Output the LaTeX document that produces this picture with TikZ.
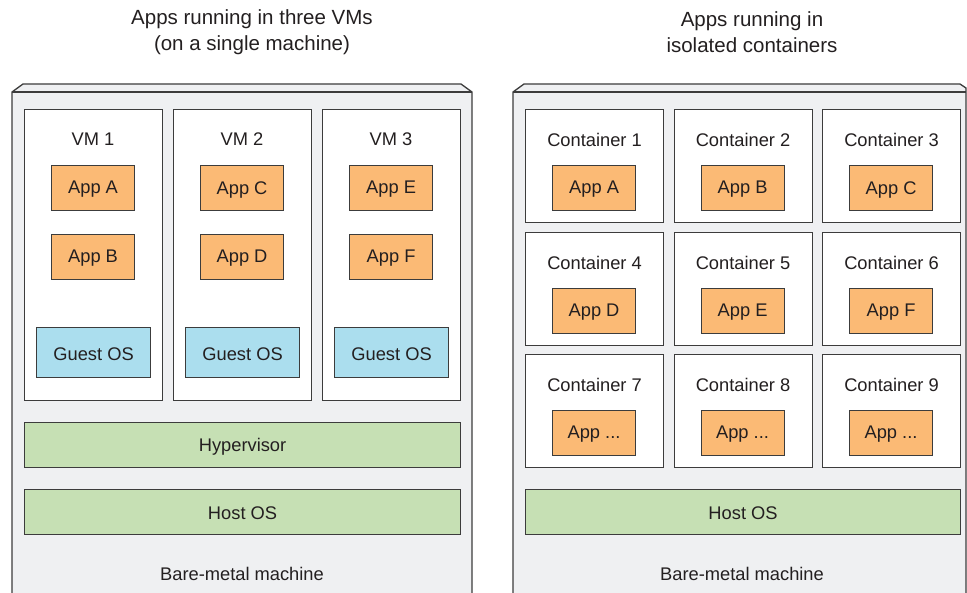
\documentclass[tikz,border=0pt]{standalone}
\usepackage{fontspec}
\setmainfont{Liberation Sans}
\definecolor{metal}{HTML}{EFF0F2}
\definecolor{appc}{HTML}{FBBA75}
\definecolor{osc}{HTML}{ABDEEE}
\definecolor{hostc}{HTML}{C6E0B4}
\definecolor{linec}{HTML}{3C3C3C}
\definecolor{txt}{HTML}{231F20}
\tikzset{
  base/.style={draw=linec, line width=1.1pt, anchor=north west, inner sep=0pt, text=txt, font=\fontsize{18.3}{20}\selectfont},
  vmbox/.style={base, fill=white, minimum width=138, minimum height=291},
  ctbox/.style={base, fill=white, minimum width=138, minimum height=113},
  appbox/.style={base, fill=appc, minimum width=83, minimum height=45},
  osbox/.style={base, fill=osc, minimum width=114, minimum height=50},
  greenbox/.style={base, fill=hostc, minimum width=436, minimum height=45},
  lbl/.style={text=txt, font=\fontsize{18.3}{20}\selectfont, inner sep=0pt, yshift=-1.5pt},
  title/.style={text=txt, font=\fontsize{20.5}{26}\selectfont, align=center, inner sep=0pt},
  metalframe/.style={draw=linec, line width=1.3pt, fill=metal, line join=round}
}
\begin{document}
\begin{tikzpicture}[x=1pt,y=-1pt]
\useasboundingbox (0,0) rectangle (967,593);
\begin{scope}
\clip (0,0) rectangle (967,593);
\filldraw[metalframe] (12,610) -- (12,92) -- (23,84) -- (461,84) -- (472,92) -- (472,610) -- cycle;
\draw[linec, line width=1.3pt] (12,92) -- (472,92);
\filldraw[metalframe] (513,610) -- (513,92) -- (524,84) -- (960,84) -- (966,88) -- (966,610) -- cycle;
\draw[linec, line width=1.3pt] (513,92) -- (966,92);
\end{scope}

% titles
\node[title] (t1) at (252,32) {Apps running in three VMs\\(on a single machine)};
\node[title] (t2) at (752,32) {Apps running in\\isolated containers};

% VMs
\node[vmbox] (vm1) at (24,109) {};
\node[vmbox] (vm2) at (173,109) {};
\node[vmbox] (vm3) at (322,109) {};
\node[lbl] (vm1l) at (93,138) {VM 1};
\node[lbl] (vm2l) at (242,138) {VM 2};
\node[lbl] (vm3l) at (391,138) {VM 3};
\node[appbox] (aA) at (51,165) {};  \node[lbl] at (aA.center) {App A};
\node[appbox] (aB) at (51,234) {};  \node[lbl] at (aB.center) {App B};
\node[appbox] (aC) at (200,165) {}; \node[lbl] at (aC.center) {App C};
\node[appbox] (aD) at (200,234) {}; \node[lbl] at (aD.center) {App D};
\node[appbox] (aE) at (349,165) {}; \node[lbl] at (aE.center) {App E};
\node[appbox] (aF) at (349,234) {}; \node[lbl] at (aF.center) {App F};
\node[osbox] (g1) at (36,327) {};  \node[lbl] at (g1.center) {Guest OS};
\node[osbox] (g2) at (185,327) {}; \node[lbl] at (g2.center) {Guest OS};
\node[osbox] (g3) at (334,327) {}; \node[lbl] at (g3.center) {Guest OS};
\node[greenbox] (hyp) at (24,422) {}; \node[lbl] at (hyp.center) {Hypervisor};
\node[greenbox] (host1) at (24,489) {}; \node[lbl] at (host1.center) {Host OS};
\node[lbl] (bm1) at (242,572) {Bare-metal machine};

% Containers
\foreach \r/\y in {0/109,1/232,2/354}{
  \foreach \c/\x in {0/525,1/673.5,2/822}{
    \pgfmathtruncatemacro{\n}{3*\r+\c+1}
    \node[ctbox] (c\n) at (\x,\y) {};
    \node[lbl] (c\n l) at ([yshift=-29]c\n.north) {Container \n};
    \node[appbox] (ca\n) at ([xshift=27,yshift=-56]c\n.north west) {};
  }
}
\node[lbl] at (ca1.center) {App A};
\node[lbl] at (ca2.center) {App B};
\node[lbl] at (ca3.center) {App C};
\node[lbl] at (ca4.center) {App D};
\node[lbl] at (ca5.center) {App E};
\node[lbl] at (ca6.center) {App F};
\node[lbl] at (ca7.center) {App ...};
\node[lbl] at (ca8.center) {App ...};
\node[lbl] at (ca9.center) {App ...};
\node[greenbox, minimum width=435] (host2) at (525,489) {}; \node[lbl] at (host2.center) {Host OS};
\node[lbl] (bm2) at (742,572) {Bare-metal machine};
\end{tikzpicture}
\end{document}
